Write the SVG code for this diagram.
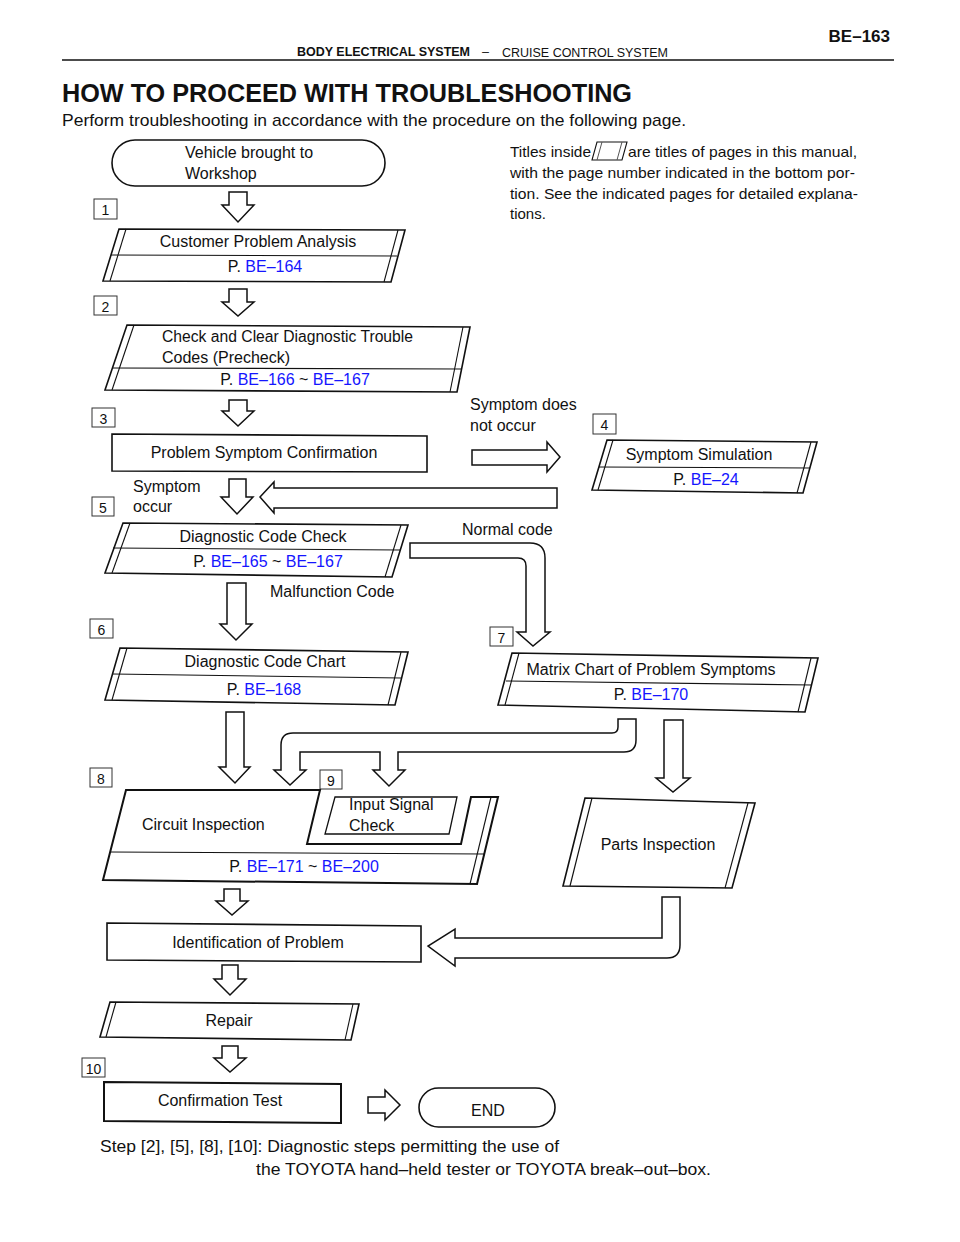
<svg xmlns="http://www.w3.org/2000/svg" width="960" height="1242" viewBox="0 0 960 1242">
<style>
text{font-family:"Liberation Sans",Arial,sans-serif;fill:#111}
.h{font-size:12.5px}
.b{font-weight:bold}
.t{font-size:16px}
.n{font-size:15px}
.lk{fill:#1515ff}
.num{font-size:14px;text-anchor:middle}
.mid{text-anchor:middle}
.box{fill:#fff;stroke:#111;stroke-width:1.6}
.thin{fill:none;stroke:#111;stroke-width:1.1}
.nb{fill:#fff;stroke:#333;stroke-width:1}
.arr{fill:#fff;stroke:#111;stroke-width:1.5;stroke-linejoin:miter}
</style>
<rect width="960" height="1242" fill="#fff"/>

<!-- header -->
<g id="header">
<text x="890" y="42" class="b" font-size="17" text-anchor="end">BE–163</text>
<text x="297" y="56" class="h b" textLength="173" lengthAdjust="spacingAndGlyphs">BODY ELECTRICAL SYSTEM</text>
<text x="482" y="56" class="h">–</text>
<text x="502" y="57" class="h" textLength="166" lengthAdjust="spacingAndGlyphs">CRUISE CONTROL SYSTEM</text>
<line x1="62" y1="60" x2="894" y2="60" stroke="#111" stroke-width="1.5"/>
<text x="62" y="102" class="b" font-size="26" textLength="570" lengthAdjust="spacingAndGlyphs">HOW TO PROCEED WITH TROUBLESHOOTING</text>
<text x="62" y="126" font-size="17" textLength="624" lengthAdjust="spacingAndGlyphs">Perform troubleshooting in accordance with the procedure on the following page.</text>
</g>

<!-- notes -->
<g id="notes">
<text x="510" y="157" class="n" textLength="81" lengthAdjust="spacingAndGlyphs">Titles inside</text>
<polygon points="597,142 627,142 622,160 592,160" class="thin" stroke="#555"/>
<line x1="602" y1="142" x2="597" y2="160" stroke="#555" stroke-width="1"/>
<line x1="622" y1="142" x2="617" y2="160" stroke="#555" stroke-width="1"/>
<text x="628" y="157" class="n" textLength="229" lengthAdjust="spacingAndGlyphs">are titles of pages in this manual,</text>
<text x="510" y="178" class="n" textLength="345" lengthAdjust="spacingAndGlyphs">with the page number indicated in the bottom por-</text>
<text x="510" y="199" class="n" textLength="348" lengthAdjust="spacingAndGlyphs">tion. See the indicated pages for detailed explana-</text>
<text x="510" y="219" class="n">tions.</text>
</g>

<!-- step numbers -->
<g id="steps">
<rect x="94" y="199" width="23" height="20" class="nb"/><text x="105.5" y="215" class="num">1</text>
<rect x="94" y="296" width="23" height="19" class="nb"/><text x="105.5" y="312" class="num">2</text>
<rect x="92" y="408" width="23" height="19" class="nb"/><text x="103.5" y="424" class="num">3</text>
<rect x="593" y="414" width="23" height="20" class="nb"/><text x="604.5" y="430" class="num">4</text>
<rect x="92" y="497" width="22" height="19" class="nb"/><text x="103" y="513" class="num">5</text>
<rect x="90" y="619" width="23" height="19" class="nb"/><text x="101.5" y="635" class="num">6</text>
<rect x="490" y="627" width="23" height="19" class="nb"/><text x="501.5" y="643" class="num">7</text>
<rect x="90" y="768" width="22" height="19" class="nb"/><text x="101" y="784" class="num">8</text>
<rect x="320" y="770" width="22" height="19" class="nb"/><text x="331" y="786" class="num">9</text>
<rect x="82" y="1058" width="23" height="19" class="nb"/><text x="93.5" y="1074" class="num">10</text>
</g>

<!-- connectors -->
<g id="connectors">
<path class="arr" d="M229,192 H247 V205 H254 L238,222 L222,205 H229 Z"/>
<path class="arr" d="M229,289 H247 V302 H254 L238,316 L222,302 H229 Z"/>
<path class="arr" d="M229,400 H247 V411 H254 L238,426 L222,411 H229 Z"/>
<path class="arr" d="M472,450 H547 V442 L560,457 L547,472 V465 H472 Z"/>
<path class="arr" d="M557,488 H274 V482 L260,497 L274,513 V508 H557 Z"/>
<path class="arr" d="M229,479 H246 V497 H253 L237,514 L221,497 H229 Z"/>
<path class="arr" d="M410,543 H530 Q545,543 545,558 V632 H550 L533,646 L517,632 H526 V566 Q526,558 518,558 H410 Z"/>
<path class="arr" d="M227,583 H246 V624 H252 L236,640 L220,624 H227 Z"/>
<path class="arr" d="M226,712 H244 V767 H250 L235,783 L219,767 H226 Z"/>
<path class="arr" d="M618,719 H636 V740 Q636,752 624,752 H398 V770 H405 L389,786 L373,770 H380 V752 H300 V770 H306 L290,785 L274,770 H281 V745 Q281,733 293,733 H612 Q618,733 618,727 Z"/>
<path class="arr" d="M664,720 H683 V778 H690 L673,792 L656,778 H664 Z"/>
<path class="arr" d="M662,897 H680 V945 Q680,958 667,958 H455 V966 L428,946 L455,929 V938 H662 Z"/>
<path class="arr" d="M224,889 H240 V901 H248 L232,915 L216,901 H224 Z"/>
<path class="arr" d="M222,965 H238 V979 H246 L230,995 L214,979 H222 Z"/>
<path class="arr" d="M222,1046 H238 V1058 H246 L230,1072 L214,1058 H222 Z"/>
<path class="arr" d="M368,1097 H385 V1090 L400,1105 L385,1120 V1113 H368 Z"/>
</g>

<!-- nodes -->
<g id="start">
<rect x="112" y="140" width="273" height="46" rx="23" class="box"/>
<text x="185" y="158" class="t">Vehicle brought to</text>
<text x="185" y="179" class="t">Workshop</text>
</g>

<g id="customer">
<polygon points="119,229 405,230 391,282 103,281" class="box"/>
<line x1="126" y1="229" x2="110" y2="281" class="thin"/>
<line x1="398" y1="230" x2="384" y2="282" class="thin"/>
<line x1="111" y1="255" x2="397" y2="256" class="thin"/>
<text x="258" y="247" class="t mid">Customer Problem Analysis</text>
<text x="265" y="272" class="t mid">P. <tspan class="lk">BE–164</tspan></text>
</g>

<g id="precheck">
<polygon points="127,325 470,327 457,392 105,390" class="box"/>
<line x1="134" y1="325" x2="112" y2="390" class="thin"/>
<line x1="463" y1="327" x2="450" y2="392" class="thin"/>
<line x1="112" y1="368" x2="461" y2="369" class="thin"/>
<text x="162" y="342" class="t" textLength="251" lengthAdjust="spacingAndGlyphs">Check and Clear Diagnostic Trouble</text>
<text x="162" y="363" class="t">Codes (Precheck)</text>
<text x="295" y="385" class="t mid">P. <tspan class="lk">BE–166</tspan> ~ <tspan class="lk">BE–167</tspan></text>
</g>

<g id="confirm-symptom">
<polygon points="112,434 427,436 427,472 112,471" class="box"/>
<text x="264" y="458" class="t mid">Problem Symptom Confirmation</text>
</g>

<g id="labels1">
<text x="470" y="410" class="t">Symptom does</text>
<text x="470" y="431" class="t">not occur</text>
<text x="133" y="492" class="t">Symptom</text>
<text x="133" y="512" class="t">occur</text>
<text x="462" y="535" class="t">Normal code</text>
<text x="270" y="597" class="t">Malfunction Code</text>
</g>

<g id="simulation">
<polygon points="607,440 817,442 803,493 592,490" class="box"/>
<line x1="613" y1="440" x2="598" y2="490" class="thin"/>
<line x1="811" y1="442" x2="797" y2="493" class="thin"/>
<line x1="599" y1="467" x2="810" y2="468" class="thin"/>
<text x="699" y="460" class="t mid">Symptom Simulation</text>
<text x="706" y="485" class="t mid">P. <tspan class="lk">BE–24</tspan></text>
</g>

<g id="code-check">
<polygon points="123,523 408,525 392,577 105,573" class="box"/>
<line x1="130" y1="523" x2="112" y2="573" class="thin"/>
<line x1="401" y1="525" x2="385" y2="577" class="thin"/>
<line x1="113" y1="548" x2="400" y2="550" class="thin"/>
<text x="263" y="542" class="t mid">Diagnostic Code Check</text>
<text x="268" y="567" class="t mid">P. <tspan class="lk">BE–165</tspan> ~ <tspan class="lk">BE–167</tspan></text>
</g>

<g id="code-chart">
<polygon points="120,648 408,652 395,705 105,700" class="box"/>
<line x1="127" y1="648" x2="112" y2="700" class="thin"/>
<line x1="401" y1="652" x2="388" y2="705" class="thin"/>
<line x1="113" y1="674" x2="401" y2="678" class="thin"/>
<text x="265" y="667" class="t mid">Diagnostic Code Chart</text>
<text x="264" y="695" class="t mid">P. <tspan class="lk">BE–168</tspan></text>
</g>

<g id="matrix">
<polygon points="512,653 818,658 805,712 498,705" class="box"/>
<line x1="519" y1="653" x2="505" y2="705" class="thin"/>
<line x1="811" y1="658" x2="798" y2="712" class="thin"/>
<line x1="506" y1="681" x2="812" y2="685" class="thin"/>
<text x="651" y="675" class="t mid">Matrix Chart of Problem Symptoms</text>
<text x="651" y="700" class="t mid">P. <tspan class="lk">BE–170</tspan></text>
</g>

<g id="circuit">
<path d="M126,790 H320 L307,844 H461 L471,797 H498 L477,884 L103,880 Z" fill="#fff" stroke="#111" stroke-width="2"/>
<line x1="491" y1="797" x2="470" y2="884" class="thin"/>
<line x1="110" y1="852" x2="484" y2="854" class="thin"/>
<text x="142" y="830" class="t">Circuit Inspection</text>
<text x="304" y="872" class="t mid">P. <tspan class="lk">BE–171</tspan> ~ <tspan class="lk">BE–200</tspan></text>
</g>

<g id="input-signal">
<polygon points="335,797 457,797 449,834 325,834" fill="#fff" stroke="#111" stroke-width="1.3"/>
<text x="349" y="810" class="t">Input Signal</text>
<text x="349" y="831" class="t">Check</text>
</g>

<g id="parts">
<polygon points="585,798 755,803 732,888 563,886" class="box"/>
<line x1="592" y1="798" x2="570" y2="886" class="thin"/>
<line x1="748" y1="803" x2="725" y2="888" class="thin"/>
<text x="658" y="850" class="t mid">Parts Inspection</text>
</g>

<g id="identification">
<polygon points="107,923 421,926 421,962 107,960" class="box"/>
<text x="258" y="948" class="t mid">Identification of Problem</text>
</g>

<g id="repair">
<polygon points="110,1002 359,1004 351,1040 100,1037" class="box"/>
<line x1="116" y1="1002" x2="106" y2="1037" class="thin"/>
<line x1="353" y1="1004" x2="345" y2="1040" class="thin"/>
<text x="229" y="1026" class="t mid">Repair</text>
</g>

<g id="confirmation-test">
<polygon points="104,1082 341,1084 341,1123 104,1121" fill="#fff" stroke="#111" stroke-width="2"/>
<text x="220" y="1106" class="t mid">Confirmation Test</text>
</g>

<g id="end">
<rect x="419" y="1088" width="136" height="39" rx="19.5" class="box"/>
<text x="488" y="1116" class="t mid">END</text>
</g>

<g id="footer">
<text x="100" y="1152" font-size="17" textLength="459" lengthAdjust="spacingAndGlyphs">Step [2], [5], [8], [10]: Diagnostic steps permitting the use of</text>
<text x="256" y="1175" font-size="17" textLength="455" lengthAdjust="spacingAndGlyphs">the TOYOTA hand–held tester or TOYOTA break–out–box.</text>
</g>
</svg>
